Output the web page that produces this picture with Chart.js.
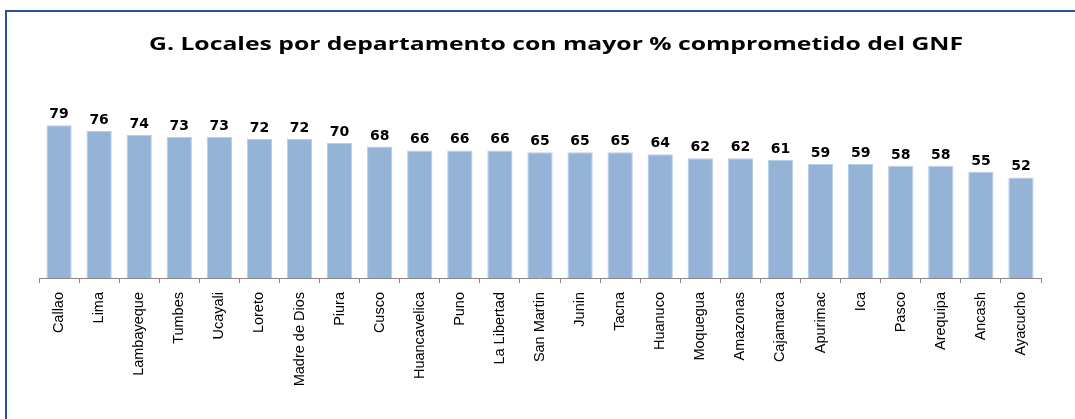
<!DOCTYPE html>
<html>
<head>
<meta charset="utf-8">
<script src="https://cdn.jsdelivr.net/npm/chart.js@4/dist/chart.umd.min.js"></script>
<style>
  html, body { margin: 0; padding: 0; background: #fff; }
  #wrap { width: 1075px; height: 419px; position: relative; }
</style>
</head>
<body>
<div id="wrap"><canvas id="grafico"></canvas></div>
<script>
const departamentos = ['Callao', 'Lima', 'Lambayeque', 'Tumbes', 'Ucayali', 'Loreto', 'Madre de Dios', 'Piura', 'Cusco',
    'Huancavelica', 'Puno', 'La Libertad', 'San Martin', 'Junin', 'Tacna', 'Huanuco', 'Moquegua', 'Amazonas',
    'Cajamarca', 'Apurimac', 'Ica', 'Pasco', 'Arequipa', 'Ancash', 'Ayacucho'];
const porcentajes = [79, 76, 74, 73, 73, 72, 72, 70, 68, 66, 66, 66, 65, 65, 65, 64, 62, 62, 61, 59, 59, 58, 58, 55, 52];
const tituloGrafico = 'G. Locales por departamento con mayor % comprometido del GNF';

// borde azul del recuadro (solo arriba e izquierda)
const bordePlugin = {
    id: 'borde',
    beforeDraw(chart) {
        const ctx = chart.ctx;
        ctx.save();
        ctx.strokeStyle = '#2a5190';
        ctx.lineWidth = 2;
        ctx.beginPath();
        ctx.moveTo(6, 419);
        ctx.lineTo(6, 11);
        ctx.lineTo(1075, 11);
        ctx.stroke();
        ctx.restore();
    }
};

// titulo ancho (fuente estirada como en el original)
const tituloPlugin = {
    id: 'tituloAncho',
    afterDraw(chart) {
        const ctx = chart.ctx;
        ctx.save();
        ctx.font = 'bold 18px "Open Sans"';
        ctx.fillStyle = '#000';
        ctx.textAlign = 'center';
        ctx.textBaseline = 'alphabetic';
        const w = ctx.measureText(tituloGrafico).width;
        ctx.translate(556, 50);
        ctx.scale(814 / w, 1);
        ctx.fillText(tituloGrafico, 0, 0);
        ctx.restore();
    }
};

// valores encima de cada barra
const valoresPlugin = {
    id: 'valores',
    afterDatasetsDraw(chart) {
        const ctx = chart.ctx;
        const meta = chart.getDatasetMeta(0);
        ctx.save();
        ctx.font = 'bold 14px "DejaVu Sans"';
        ctx.fillStyle = '#000';
        ctx.textAlign = 'center';
        ctx.textBaseline = 'alphabetic';
        meta.data.forEach(function (bar, i) {
            ctx.fillText(porcentajes[i], bar.x, bar.y - 7);
        });
        ctx.restore();
    }
};

new Chart(document.getElementById('grafico').getContext('2d'), {
    type: 'bar',
    data: {
        labels: departamentos,
        datasets: [{
            data: porcentajes,
            backgroundColor: '#95b3d7',
            borderColor: '#b9cde5',
            borderWidth: 1,
            barPercentage: 0.63,
            categoryPercentage: 1
        }]
    },
    options: {
        responsive: true,
        maintainAspectRatio: false,
        animation: false,
        layout: { padding: { left: 39, right: 34, top: 104, bottom: 0 } },
        plugins: {
            legend: { display: false },
            tooltip: { enabled: false },
            title: { display: false }
        },
        scales: {
            x: {
                grid: { drawOnChartArea: false, tickLength: 5, color: '#888' },
                border: { color: '#888' },
                ticks: {
                    color: '#000',
                    font: { family: '"Liberation Sans", Arial', size: 14.5 },
                    minRotation: 90,
                    maxRotation: 90,
                    autoSkip: false,
                    padding: 9
                },
                afterFit: function (scale) { scale.height = 141; }
            },
            y: {
                display: false,
                min: 0,
                max: 90
            }
        }
    },
    plugins: [bordePlugin, tituloPlugin, valoresPlugin]
});
</script>
</body>
</html>
